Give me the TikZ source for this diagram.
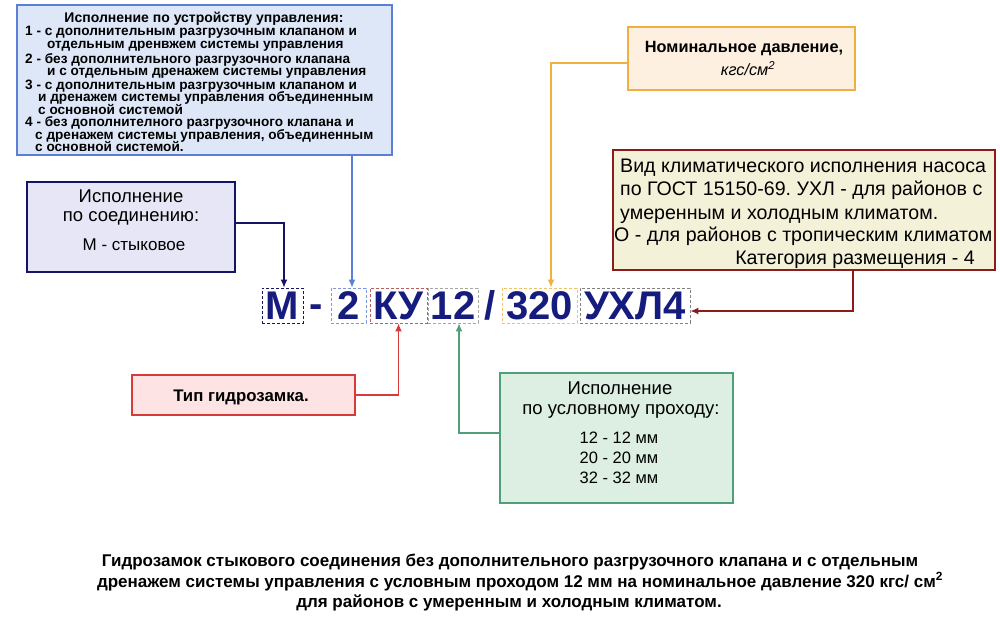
\documentclass[tikz,border=0pt]{standalone}
\usepackage{fontspec}
\setmainfont{Liberation Sans}
\usetikzlibrary{arrows.meta,positioning}
\frenchspacing
\definecolor{codeblue}{RGB}{22,28,125}
\definecolor{navyline}{RGB}{20,20,100}
\definecolor{ctlfill}{RGB}{221,231,248}
\definecolor{ctlline}{RGB}{90,127,214}
\definecolor{connfill}{RGB}{230,230,246}
\definecolor{pressfill}{RGB}{253,240,224}
\definecolor{pressline}{RGB}{240,176,64}
\definecolor{climfill}{RGB}{244,241,217}
\definecolor{climline}{RGB}{140,28,28}
\definecolor{typefill}{RGB}{253,227,227}
\definecolor{typeline}{RGB}{216,58,58}
\definecolor{dnfill}{RGB}{220,239,226}
\definecolor{dnline}{RGB}{79,159,119}

\begin{document}
\begin{tikzpicture}[
  x=1pt, y=-1pt, >={Latex[length=8pt,width=7pt]},
  box/.style 2 args={draw=#1, fill=#2, line width=1.3pt, inner sep=0pt},
  code/.style={draw=#1, dash pattern=on 3pt off 2pt, line width=0.8pt, inner sep=0pt,
    font=\fontsize{40}{40}\selectfont\bfseries, text=codeblue},
  link/.style={draw=#1, line width=1.4pt, ->},
  txt/.style={inner sep=0pt, anchor=base}]
\useasboundingbox (0,0) rectangle (1000,623);
% boxes
\node[box={ctlline}{ctlfill}, minimum width=375, minimum height=150] (bCtrl) at (204.5,80) {};
\node[box={navyline}{connfill}, minimum width=208, minimum height=90] (bConn) at (131,227) {};
\node[box={pressline}{pressfill}, minimum width=227, minimum height=63] (bPress) at (741.5,58.5) {};
\node[box={climline}{climfill}, minimum width=382, minimum height=120] (bClim) at (804,210) {};
\node[box={typeline}{typefill}, minimum width=223, minimum height=40] (bType) at (243.5,395) {};
\node[box={dnline}{dnfill}, minimum width=233, minimum height=130] (bDN) at (616.5,438) {};
% control box text
\node[txt, font=\fontsize{14}{15}\selectfont\bfseries] (ctlHead) at (204,22.5) {Исполнение по устройству управления:};
\foreach \i/\y/\x/\t in {
  1/36/25/{1 - с дополнительным разгрузочным клапаном и},
  2/49/47/{отдельным дренвжем системы управления},
  3/63.5/25/{2 - без дополнительного разгрузочного клапана},
  4/76/47/{и с отдельным дренажем системы управления},
  5/89.5/25/{3 - с дополнительным разгрузочным клапаном и},
  6/102/38/{и дренажем системы управления объединенным},
  7/114/38/{с основной системой},
  8/127/25/{4 - без дополнителного разгрузочного клапана и},
  9/139.5/35/{с дренажем системы управления, объединенным},
  10/151.5/35/{с основной системой.}}
  \node[txt, anchor=base west, font=\fontsize{13.6}{15}\selectfont\bfseries] (ctl\i) at (\x,\y) {\t};
% connection box text
\node[txt, font=\fontsize{18.5}{20}\selectfont] (connA) at (131,202.5) {Исполнение};
\node[txt, font=\fontsize{18.5}{20}\selectfont] (connB) at (131,221.5) {по соединению:};
\node[txt, font=\fontsize{17}{19}\selectfont] (connC) at (134,250) {М - стыковое};
% pressure box text
\node[txt, font=\fontsize{16.3}{18}\selectfont\bfseries] (pressA) at (744,53) {Номинальное давление,};
\node[txt, font=\fontsize{16.3}{18}\selectfont\itshape] (pressB) at (748,76) {кгс/см\textsuperscript{2}};
% climate box text
\node[txt, anchor=base west, font=\fontsize{19.6}{22}\selectfont] (climA) at (620,172) {Вид климатического исполнения насоса};
\node[txt, anchor=base west, font=\fontsize{19.6}{22}\selectfont] (climB) at (620,195) {по ГОСТ 15150-69. УХЛ - для районов с};
\node[txt, anchor=base west, font=\fontsize{19.6}{22}\selectfont] (climC) at (620,219) {умеренным и холодным климатом.};
\node[txt, anchor=base west, font=\fontsize{19.6}{22}\selectfont] (climD) at (614,241) {О - для районов с тропическим климатом};
\node[txt, anchor=base east, font=\fontsize{19.6}{22}\selectfont] (climE) at (975,264) {Категория размещения - 4};
% type box text
\node[txt, font=\fontsize{16.8}{18}\selectfont\bfseries] (typeA) at (241,401) {Тип гидрозамка.};
% bore box text
\node[txt, font=\fontsize{18.5}{20}\selectfont] (dnA) at (620,394.5) {Исполнение};
\node[txt, font=\fontsize{18.5}{20}\selectfont] (dnB) at (621,414.5) {по условному проходу:};
\node[txt, font=\fontsize{16.5}{18}\selectfont] (dnC) at (619,443) {12 - 12 мм};
\node[txt, font=\fontsize{16.5}{18}\selectfont] (dnD) at (619,463) {20 - 20 мм};
\node[txt, font=\fontsize{16.5}{18}\selectfont] (dnE) at (619,483) {32 - 32 мм};
% designation
\node[code=navyline, minimum width=41, minimum height=35] (cM) at (282.5,305.5) {М};
\node[txt, font=\fontsize{40}{40}\selectfont\bfseries, text=codeblue] (cDash) at (316.5,317) {-};
\node[code=ctlline!80, minimum width=35, minimum height=35] (cTwo) at (348.5,305.5) {2};
\node[code=climline!60!pink, minimum width=57, minimum height=35] (cKU) at (398.5,305.5) {КУ};
\node[code=gray!70, minimum width=50, minimum height=35] (cDN) at (453,305.5) {12};
\node[txt, font=\fontsize{40}{40}\selectfont\bfseries, text=codeblue] (cSlash) at (490,319.8) {/};
\node[code=pressline!80, minimum width=75, minimum height=35] (cP) at (539.5,305.5) {320};
\node[code=gray, minimum width=110, minimum height=35] (cUHL) at (635,305.5) {УХЛ4};
% connectors
\coordinate (tM) at ([xshift=1.5]cM.north);
\coordinate (tTwo) at ([xshift=3.5]cTwo.north);
\coordinate (tP) at ([xshift=11.5]cP.north);
\coordinate (tDN) at ([xshift=6]cDN.south);
\draw[link=navyline] ([yshift=4]bConn.east) -| (tM);
\draw[link=ctlline] (bCtrl.south -| tTwo) -- (tTwo);
\draw[link=pressline] ([yshift=-4.5]bPress.west) -| (tP);
\draw[link=climline] ([xshift=49]bClim.south) |- ([yshift=-5.5]cUHL.east);
\draw[link=typeline] (bType.east) -| (cKU.south);
\draw[link=dnline] ([yshift=5]bDN.west) -| (tDN);
% caption
\node[txt, font=\fontsize{17}{20}\selectfont\bfseries] (capA) at (510,566) {Гидрозамок стыкового соединения без дополнительного разгрузочного клапана и с отдельным};
\node[txt, font=\fontsize{17}{20}\selectfont\bfseries] (capB) at (520,587) {дренажем системы управления с условным проходом 12 мм на номинальное давление 320 кгс/ см\textsuperscript{2}};
\node[txt, font=\fontsize{17}{20}\selectfont\bfseries] (capC) at (509,607) {для районов с умеренным и холодным климатом.};
\end{tikzpicture}
\end{document}
